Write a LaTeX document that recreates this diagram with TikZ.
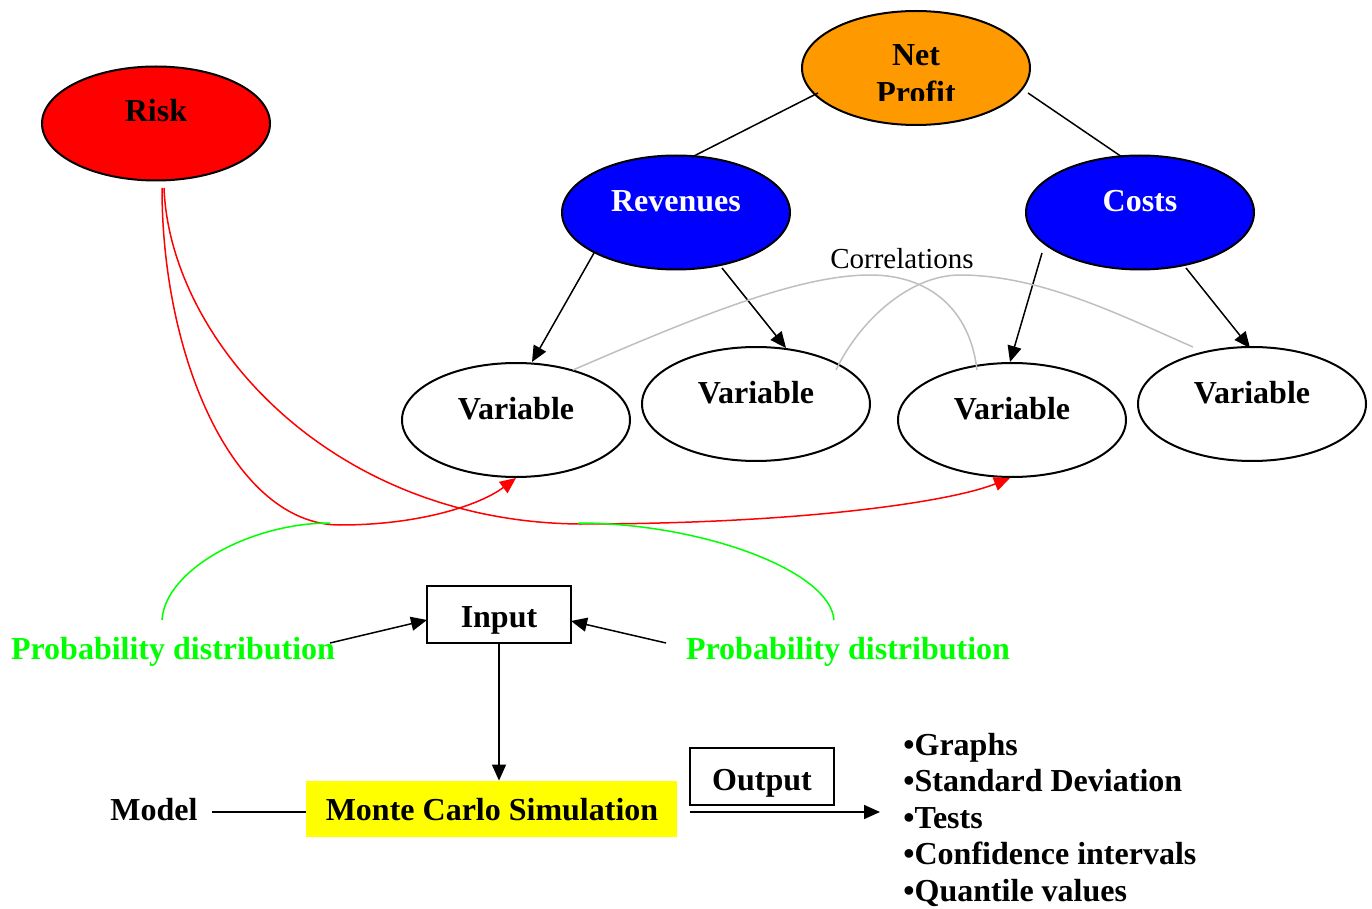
\documentclass[tikz,border=0pt]{standalone}
\usepackage{fontspec}
\setmainfont{Liberation Serif}
\usetikzlibrary{shapes.geometric,arrows.meta}
\definecolor{orng}{HTML}{FF9900}
\definecolor{pgreen}{HTML}{00FF00}
\definecolor{pred}{HTML}{FF0000}
\definecolor{pblue}{HTML}{0000FF}
\definecolor{pyellow}{HTML}{FFFF00}
\definecolor{corrgray}{HTML}{BFBFBF}
\begin{document}
\begin{tikzpicture}[x=0.5pt,y=-0.5pt,
  ell/.style={ellipse,draw=black,line width=1pt,minimum width=114pt,minimum height=57pt,inner sep=0pt},
  lbl/.style={font=\fontsize{16}{19}\selectfont\bfseries,anchor=base,inner sep=0pt},
  wlbl/.style={lbl,text=white},
  glbl/.style={lbl,text=pgreen},
  con/.style={line width=0.75pt},
  arr/.style={con,-{Triangle[length=8pt,width=7pt]}},
  rarr/.style={draw=pred,line width=0.75pt,-{Triangle[length=8pt,width=7pt]},pred},
  corr/.style={draw=corrgray,line width=0.75pt},
  gcurve/.style={draw=pgreen,line width=0.75pt},
  boxs/.style={draw,line width=0.75pt,minimum width=72pt,minimum height=28.5pt,inner sep=0pt}
]
\useasboundingbox (0,0) rectangle (1372,909);

% ellipses
\node[ell,fill=pred] (risk) at (156,123.5) {};
\node[ell,fill=orng] (np) at (916,68) {};
\node[ell,fill=pblue] (rev) at (676,212.5) {};
\node[ell,fill=pblue] (cost) at (1140,212.5) {};
\node[ell] (v1) at (516,420) {};
\node[ell] (v2) at (756,404) {};
\node[ell] (v3) at (1012,420) {};
\node[ell] (v4) at (1252,404) {};

% ellipse texts
\node[lbl] (risktxt) at (156,122) {Risk};
\node[lbl] (nettxt) at (916,66) {Net};
\begin{scope}
  \clip (800,0) rectangle (1030,100.5);
  \node[lbl] (proftxt) at (916,104) {Profit};
\end{scope}
\node[wlbl] (revtxt) at (676,212) {Revenues};
\node[wlbl] (costtxt) at (1140,212) {Costs};
\node[lbl] (v1txt) at (516,420) {Variable};
\node[lbl] (v2txt) at (756,404) {Variable};
\node[lbl] (v3txt) at (1012,420) {Variable};
\node[lbl] (v4txt) at (1252,404) {Variable};

\node[anchor=base,inner sep=0pt,font=\fontsize{14.5}{17}\selectfont] (corrtxt) at (902,269) {Correlations};

% tree connectors
\coordinate (npl) at (818,93);
\coordinate (npr) at (1028,93);
\coordinate (revt) at (692,157);
\coordinate (costt) at (1122,157);
\coordinate (revbl) at (594,253);
\coordinate (revbr) at (722,268);
\coordinate (costbl) at (1042,253);
\coordinate (costbr) at (1186,268);
\coordinate (v1t) at (532,362);
\coordinate (v2t) at (786,348);
\coordinate (v3t) at (1010,362);
\coordinate (v4t) at (1250,348);
\draw[con] (npl) -- (revt);
\draw[con] (npr) -- (costt);
\draw[arr] (revbl) -- (v1t);
\draw[arr] (revbr) -- (v2t);
\draw[arr] (costbl) -- (v3t);
\draw[arr] (costbr) -- (v4t);

% correlations
\coordinate (c1a) at (573,370);
\coordinate (c1b) at (977,370);
\coordinate (c2a) at (836,370);
\coordinate (c2b) at (1193,347);
\draw[corr] (c1a) .. controls (700,315) and (800,275) .. (870,275)
   .. controls (930,275) and (970,310) .. (c1b);
\draw[corr] (c2a) .. controls (860,320) and (910,275) .. (960,275)
   .. controls (1040,275) and (1120,315) .. (c2b);

% risk curves
\coordinate (rs1) at (162,188);
\coordinate (rs2) at (164,188);
\coordinate (v1b) at (516,478);
\coordinate (v3b) at (1010,478);
\draw[rarr] (rs1) .. controls (162,360) and (235,525) .. (340,525)
   .. controls (420,525) and (480,505) .. (v1b);
\draw[rarr] (rs2) .. controls (170,340) and (330,522) .. (580,524)
   .. controls (800,524) and (950,502) .. (v3b);

% probability distributions
\node[glbl] (pdl) at (173,659) {Probability distribution};
\node[glbl] (pdr) at (848,659) {Probability distribution};
\coordinate (gl) at (330,523);
\coordinate (gr) at (578,523);
\coordinate (pdlt) at (162,620);
\coordinate (pdrt) at (834,620);
\draw[gcurve] (pdlt) .. controls (165,570) and (250,523) .. (gl);
\draw[gcurve] (pdrt) .. controls (830,570) and (700,523) .. (gr);

% input / simulation / output
\node[boxs] (inbox) at (499,614.5) {};
\node[lbl] (intxt) at (499,627) {Input};
\node[fill=pyellow,minimum width=185.5pt,minimum height=28pt,inner sep=0pt] (mcs) at (491.5,809) {};
\node[lbl] (mcstxt) at (492,820) {Monte Carlo Simulation};
\node[lbl] (model) at (154,820) {Model};
\node[boxs] (outbox) at (762,776.5) {};
\node[lbl] (outtxt) at (762,790) {Output};

\coordinate (pdlr) at (330,643);
\coordinate (pdrl) at (666,643);
\coordinate (inl) at (427,620);
\coordinate (inr) at (571,621);
\draw[arr] (pdlr) -- (inl);
\draw[arr] (pdrl) -- (inr);
\draw[arr] (inbox.south) -- (mcs.north -| inbox.south);
\coordinate (modr) at (212,812);
\draw[con] (modr) -- (mcs.west |- modr);
\coordinate (oa) at (690,812);
\coordinate (ob) at (880,812);
\draw[arr] (oa) -- (ob);

% results list
\node[lbl,anchor=base west] (b1) at (903,755) {•Graphs};
\node[lbl,anchor=base west] (b2) at (903,791.5) {•Standard Deviation};
\node[lbl,anchor=base west] (b3) at (903,828) {•Tests};
\node[lbl,anchor=base west] (b4) at (903,864.5) {•Confidence intervals};
\node[lbl,anchor=base west] (b5) at (903,901) {•Quantile values};
\end{tikzpicture}
\end{document}
